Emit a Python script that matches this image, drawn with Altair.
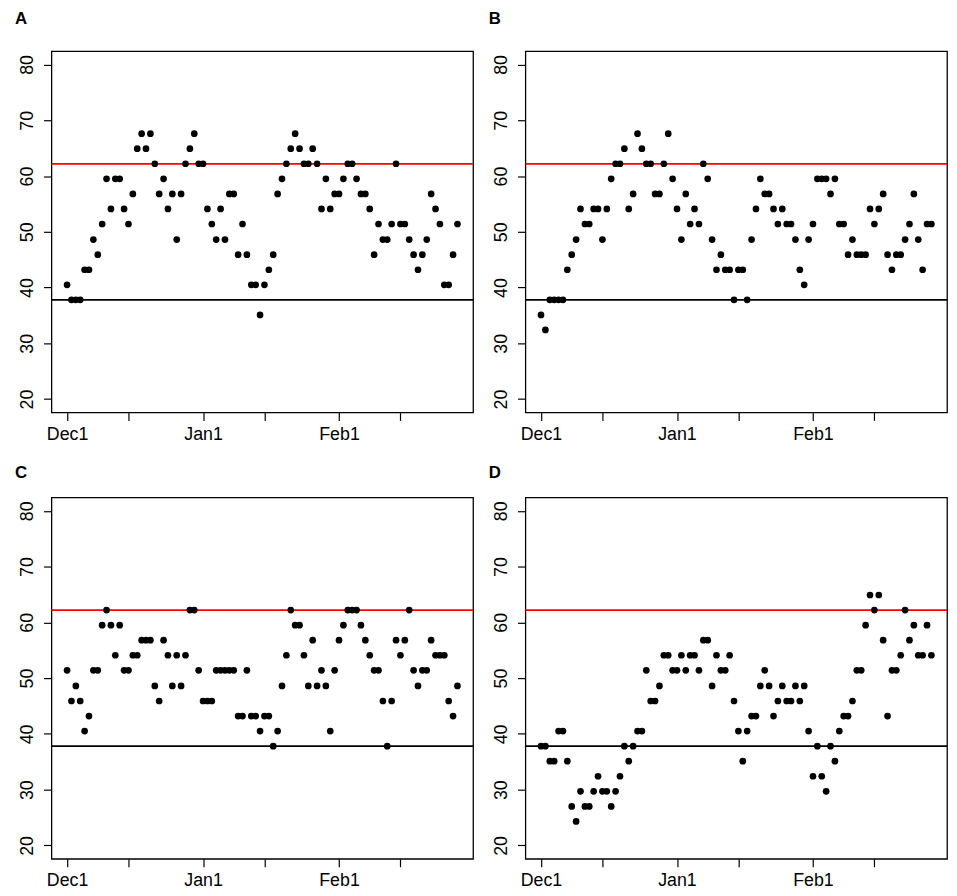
import altair as alt
import pandas as pd

# ---- data (one value per day, Dec 1 .. Feb 28) ----
days = list(range(90))

panel_a = [40.5, 37.8, 37.8, 37.8, 43.2, 43.2, 48.6, 45.9, 51.4, 59.5,
           54.1, 59.5, 59.5, 54.1, 51.4, 56.8, 64.9, 67.6, 64.9, 67.6,
           62.2, 56.8, 59.5, 54.1, 56.8, 48.6, 56.8, 62.2, 64.9, 67.6,
           62.2, 62.2, 54.1, 51.4, 48.6, 54.1, 48.6, 56.8, 56.8, 45.9,
           51.4, 45.9, 40.5, 40.5, 35.1, 40.5, 43.2, 45.9, 56.8, 59.5,
           62.2, 64.9, 67.6, 64.9, 62.2, 62.2, 64.9, 62.2, 54.1, 59.5,
           54.1, 56.8, 56.8, 59.5, 62.2, 62.2, 59.5, 56.8, 56.8, 54.1,
           45.9, 51.4, 48.6, 48.6, 51.4, 62.2, 51.4, 51.4, 48.6, 45.9,
           43.2, 45.9, 48.6, 56.8, 54.1, 51.4, 40.5, 40.5, 45.9, 51.4]

panel_b = [35.1, 32.4, 37.8, 37.8, 37.8, 37.8, 43.2, 45.9, 48.6, 54.1,
           51.4, 51.4, 54.1, 54.1, 48.6, 54.1, 59.5, 62.2, 62.2, 64.9,
           54.1, 56.8, 67.6, 64.9, 62.2, 62.2, 56.8, 56.8, 62.2, 67.6,
           59.5, 54.1, 48.6, 56.8, 51.4, 54.1, 51.4, 62.2, 59.5, 48.6,
           43.2, 45.9, 43.2, 43.2, 37.8, 43.2, 43.2, 37.8, 48.6, 54.1,
           59.5, 56.8, 56.8, 54.1, 51.4, 54.1, 51.4, 51.4, 48.6, 43.2,
           40.5, 48.6, 51.4, 59.5, 59.5, 59.5, 56.8, 59.5, 51.4, 51.4,
           45.9, 48.6, 45.9, 45.9, 45.9, 54.1, 51.4, 54.1, 56.8, 45.9,
           43.2, 45.9, 45.9, 48.6, 51.4, 56.8, 48.6, 43.2, 51.4, 51.4]

panel_c = [51.4, 45.9, 48.6, 45.9, 40.5, 43.2, 51.4, 51.4, 59.5, 62.2,
           59.5, 54.1, 59.5, 51.4, 51.4, 54.1, 54.1, 56.8, 56.8, 56.8,
           48.6, 45.9, 56.8, 54.1, 48.6, 54.1, 48.6, 54.1, 62.2, 62.2,
           51.4, 45.9, 45.9, 45.9, 51.4, 51.4, 51.4, 51.4, 51.4, 43.2,
           43.2, 51.4, 43.2, 43.2, 40.5, 43.2, 43.2, 37.8, 40.5, 48.6,
           54.1, 62.2, 59.5, 59.5, 54.1, 48.6, 56.8, 48.6, 51.4, 48.6,
           40.5, 51.4, 56.8, 59.5, 62.2, 62.2, 62.2, 59.5, 56.8, 54.1,
           51.4, 51.4, 45.9, 37.8, 45.9, 56.8, 54.1, 56.8, 62.2, 51.4,
           48.6, 51.4, 51.4, 56.8, 54.1, 54.1, 54.1, 45.9, 43.2, 48.6]

panel_d = [37.8, 37.8, 35.1, 35.1, 40.5, 40.5, 35.1, 27.0, 24.3, 29.7,
           27.0, 27.0, 29.7, 32.4, 29.7, 29.7, 27.0, 29.7, 32.4, 37.8,
           35.1, 37.8, 40.5, 40.5, 51.4, 45.9, 45.9, 48.6, 54.1, 54.1,
           51.4, 51.4, 54.1, 51.4, 54.1, 54.1, 51.4, 56.8, 56.8, 48.6,
           54.1, 51.4, 51.4, 54.1, 45.9, 40.5, 35.1, 40.5, 43.2, 43.2,
           48.6, 51.4, 48.6, 43.2, 45.9, 48.6, 45.9, 45.9, 48.6, 45.9,
           48.6, 40.5, 32.4, 37.8, 32.4, 29.7, 37.8, 35.1, 40.5, 43.2,
           43.2, 45.9, 51.4, 51.4, 59.5, 64.9, 62.2, 64.9, 56.8, 43.2,
           51.4, 51.4, 54.1, 62.2, 56.8, 59.5, 54.1, 54.1, 59.5, 54.1]

panel_letters = ["A", "B", "C", "D"]
upper_limit = 62.2
lower_limit = 37.8
limit_colors = ["#ff0000", "#000000"]

x_tick_days = [0, 14, 31, 45, 62, 76]
x_tick_labels = ["Dec1", "", "Jan1", "", "Feb1", ""]
y_ticks = [20, 30, 40, 50, 60, 70, 80]

FONT = "Liberation Sans"

label_expr = " : ".join(
    f"datum.value == {d} ? '{lab}'" for d, lab in zip(x_tick_days, x_tick_labels)
) + " : ''"

axis_style = dict(domain=False, grid=False, tickColor="black", tickSize=8, tickWidth=1.2,
                  labelFont=FONT, labelFontSize=18, labelColor="black",
                  labelOverlap=False, title=None)


def panel(letter, values, title_offset):
    df = pd.DataFrame({"day": days, "value": values})
    lim = pd.DataFrame({"y": [upper_limit, lower_limit], "c": limit_colors})

    x = alt.X("day:Q",
              scale=alt.Scale(domain=[-3.56, 92.56], nice=False, zero=False),
              axis=alt.Axis(values=x_tick_days, labelExpr=label_expr,
                            labelPadding=5, labelFlush=False, **axis_style))
    y = alt.Y("value:Q",
              scale=alt.Scale(domain=[17.6, 82.4], nice=False, zero=False),
              axis=alt.Axis(values=y_ticks, labelAngle=-90,
                            labelAlign="center", labelBaseline="bottom",
                            labelPadding=7, **axis_style))

    rules = alt.Chart(lim).mark_rule(strokeWidth=1.8).encode(
        y=alt.Y("y:Q"), color=alt.Color("c:N", scale=None))
    pts = alt.Chart(df).mark_circle(size=46, color="black", opacity=1).encode(x=x, y=y)

    return alt.layer(rules, pts).properties(
        width=427, height=366,
        title=alt.TitleParams(letter, anchor="start", fontSize=17, fontWeight="bold",
                              font=FONT, color="black", offset=title_offset, dx=-4),
    )


pa = panel(panel_letters[0], panel_a, 23)
pb = panel(panel_letters[1], panel_b, 23)
pc = panel(panel_letters[2], panel_c, 16)
pd_ = panel(panel_letters[3], panel_d, 16)

chart = alt.vconcat(
    alt.hconcat(pa, pb, spacing=13),
    alt.hconcat(pc, pd_, spacing=13),
    spacing=19,
).properties(
    padding={"left": 6, "top": -4, "right": 0, "bottom": 0},
    background="white",
).configure_view(
    stroke="black", strokeWidth=1.3
).configure_axis(
    domain=False, grid=False, tickColor="black"
)

chart.save("out.html", embed_options={"renderer": "svg", "actions": False})
